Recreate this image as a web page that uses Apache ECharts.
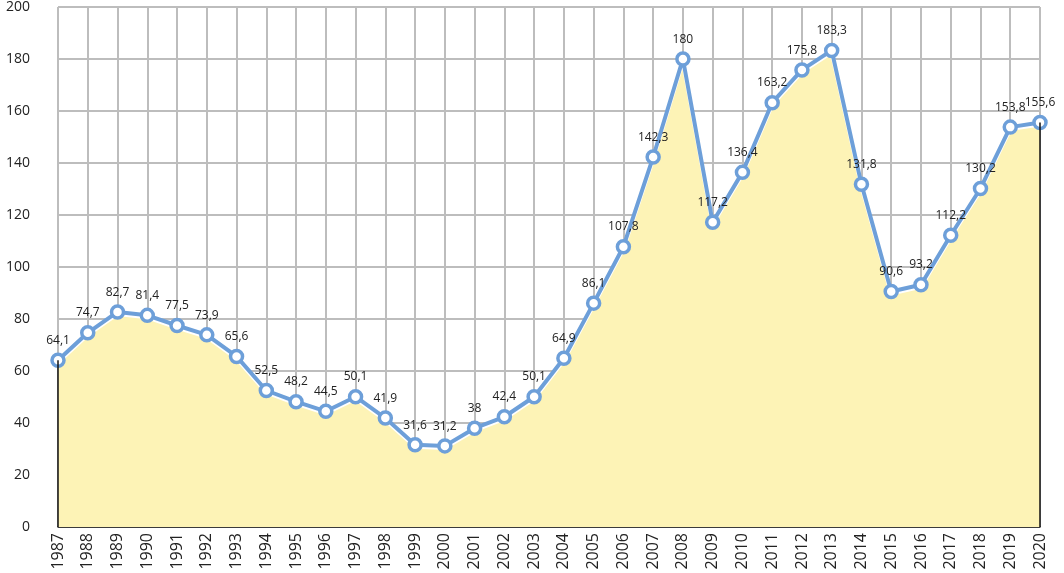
<!DOCTYPE html>
<html>
<head>
<meta charset="utf-8">
<script src="https://cdn.jsdelivr.net/npm/echarts@6/dist/echarts.min.js"></script>
<style>
html,body{margin:0;padding:0;background:#fff;}
#chart{width:1064px;height:573px;}
</style>
</head>
<body>
<div id="chart"></div>
<script>
// 年份
const years = ['1987','1988','1989','1990','1991','1992','1993','1994','1995','1996','1997','1998','1999','2000','2001','2002','2003','2004','2005','2006','2007','2008','2009','2010','2011','2012','2013','2014','2015','2016','2017','2018','2019','2020'];
// 数值
const values = [64.1,74.7,82.7,81.4,77.5,73.9,65.6,52.5,48.2,44.5,50.1,41.9,31.6,31.2,38,42.4,50.1,64.9,86.1,107.8,142.3,180,117.2,136.4,163.2,175.8,183.3,131.8,90.6,93.2,112.2,130.2,153.8,155.6];
// y轴刻度
const yMin = 0, yMax = 200, yStep = 20;

let myChart = echarts.init(document.getElementById('chart'));

const first = years[0], last = years[years.length - 1];

myChart.setOption({
    textStyle: {fontFamily: 'Open Sans', color: '#222'},
    grid: {left: 58, right: 24, top: 7, bottom: 46},
    xAxis: {
        type: 'category',
        data: years,
        boundaryGap: false,
        axisLine: {lineStyle: {color: '#111', width: 1.5}},
        axisTick: {show: false},
        axisLabel: {rotate: 90, fontSize: 16, color: '#222', margin: 6},
        splitLine: {show: true, lineStyle: {color: '#bdbdbd', width: 2}}
    },
    yAxis: {
        type: 'value',
        min: yMin, max: yMax, interval: yStep,
        axisLine: {show: false},
        axisTick: {show: false},
        axisLabel: {fontSize: 14, color: '#222', margin: 28},
        splitLine: {lineStyle: {color: '#bdbdbd', width: 2}}
    },
    series: [{
        type: 'line',
        data: values,
        symbol: 'circle',
        symbolSize: 12,
        itemStyle: {color: '#fff', borderColor: '#6d9fd9', borderWidth: 3.5},
        lineStyle: {color: '#6d9fd9', width: 4, shadowColor: '#ffffff', shadowOffsetY: 2},
        areaStyle: {color: '#fdf3b6', opacity: 1},
        label: {
            show: true, position: 'top', fontSize: 12, color: '#222', distance: 6,
            formatter: p => String(p.value).replace('.', ',')
        },
        markLine: {
            silent: true, symbol: 'none', label: {show: false},
            lineStyle: {color: '#111', width: 1.5, type: 'solid'},
            data: [
                [{coord: [first, 0]}, {coord: [first, values[0]]}],
                [{coord: [last, 0]}, {coord: [last, values[values.length - 1]]}]
            ]
        },
        z: 3
    }]
});
</script>
</body>
</html>
